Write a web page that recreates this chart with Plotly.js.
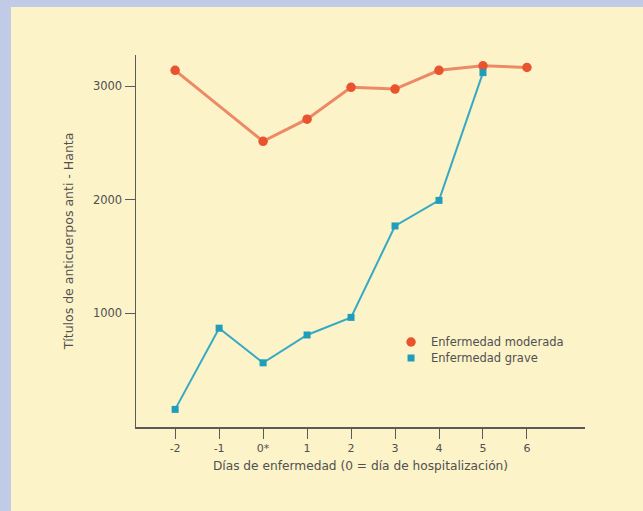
<!DOCTYPE html>
<html>
<head>
<meta charset="utf-8">
<script src="https://cdn.plot.ly/plotly-3.0.1.min.js"></script>
<style>
html,body{margin:0;padding:0;background:#c1cae6;width:643px;height:511px;overflow:hidden;}
#chart{position:absolute;left:11px;top:7px;width:632px;height:504px;}
</style>
</head>
<body>
<div id="chart"></div>
<script>
const dayTicks = [-2, -1, 0, 1, 2, 3, 4, 5, 6];
const dayLabels = ["-2", "-1", "0*", "1", "2", "3", "4", "5", "6"];
const moderateDays = [-2, 0, 1, 2, 3, 4, 5, 6];
const moderateValues = [3140, 2515, 2710, 2990, 2975, 3140, 3180, 3165];
const graveDays = [-2, -1, 0, 1, 2, 3, 4, 5];
const graveValues = [155, 870, 565, 810, 965, 1770, 1995, 3120];
const yTicks = [1000, 2000, 3000];
const seriesNames = ["Enfermedad moderada", "Enfermedad grave"];

const modLine = '#ec8a66', modMarker = '#e9532e';
const graveLine = '#36a9c4', graveMarker = '#1f9dbb';
const txt = '#505050';
const fam = 'DejaVu Sans, sans-serif';

const traces = [
  {x: moderateDays, y: moderateValues, mode: 'lines', line: {color: modLine, width: 3}, showlegend: false, hoverinfo: 'skip'},
  {x: graveDays, y: graveValues, mode: 'lines', line: {color: graveLine, width: 2}, showlegend: false, hoverinfo: 'skip'},
  {x: moderateDays, y: moderateValues, mode: 'markers', name: seriesNames[0], legend: 'legend',
   marker: {color: modMarker, size: 9.5, symbol: 'circle'}},
  {x: graveDays, y: graveValues, mode: 'markers', name: seriesNames[1], legend: 'legend2',
   marker: {color: graveMarker, size: 7, symbol: 'square'}}
];

const legendBase = {xanchor: 'left', yanchor: 'middle', bgcolor: 'rgba(0,0,0,0)',
  font: {size: 11.5, color: txt, family: fam}, itemwidth: 30};

const layout = {
  width: 632, height: 504,
  paper_bgcolor: '#fcf3c8', plot_bgcolor: '#fcf3c8',
  margin: {l: 125, r: 58, t: 48, b: 84},
  font: {family: fam, color: txt, size: 11},
  xaxis: {
    range: [-2.89, 7.32], tickvals: dayTicks, ticktext: dayLabels,
    showgrid: false, zeroline: false, showline: true, linecolor: '#5a5a5a', linewidth: 1.5,
    ticks: 'outside', ticklen: 10, tickwidth: 1, tickcolor: '#5a5a5a', ticklabelstandoff: 0,
    tickfont: {size: 11, color: txt, family: fam},
    title: {text: 'Días de enfermedad (0 = día de hospitalización)', font: {size: 12.2, color: txt, family: fam}, standoff: 8}
  },
  yaxis: {
    range: [0, 3275], tickvals: yTicks, ticktext: yTicks.map(String),
    showgrid: false, zeroline: false, showline: true, linecolor: '#5a5a5a', linewidth: 1.5,
    ticks: 'outside', ticklen: 10, tickwidth: 1, tickcolor: '#5a5a5a',
    tickfont: {size: 11.5, color: txt, family: fam},
    title: {text: 'Títulos de anticuerpos anti - Hanta', font: {size: 12.5, color: txt, family: fam}, standoff: 16}
  },
  legend: Object.assign({x: 0.568, y: 0.2285}, legendBase),
  legend2: Object.assign({x: 0.568, y: 0.1855}, legendBase),
  showlegend: true
};

Plotly.newPlot('chart', traces, layout, {displayModeBar: false, staticPlot: true});
</script>
</body>
</html>
